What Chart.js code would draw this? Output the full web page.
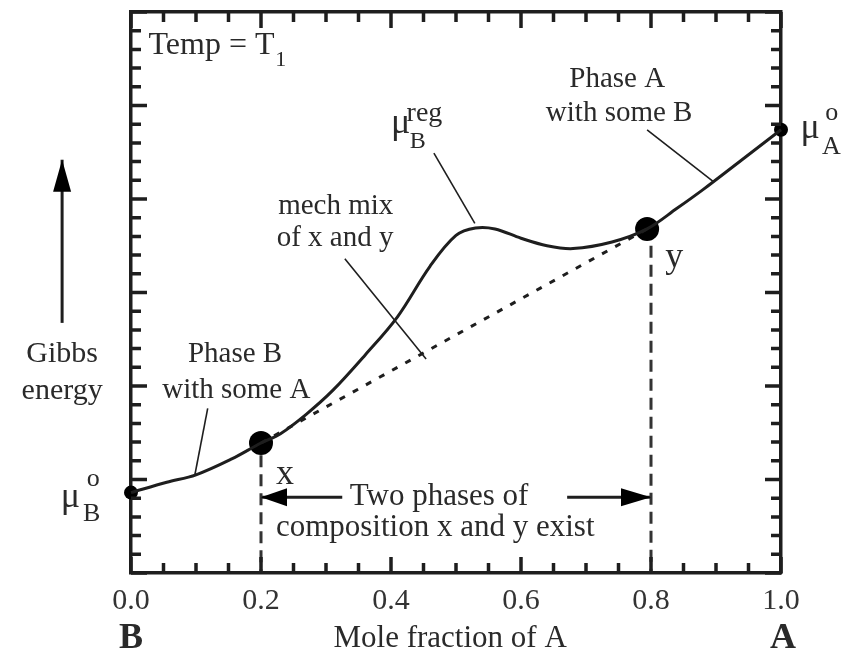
<!DOCTYPE html>
<html><head><meta charset="utf-8">
<script src="https://cdn.jsdelivr.net/npm/chart.js@4.4.1/dist/chart.umd.min.js"></script>
<style>html,body{margin:0;padding:0;background:#fff;}canvas{display:block;}</style>
</head><body>
<canvas id="c" width="846" height="656"></canvas>
<script>
// ---- data (x = mole fraction of A, G = Gibbs energy, arbitrary units) ----
const curveX = [0.00, 0.055, 0.10, 0.155, 0.20, 0.23, 0.27, 0.31, 0.36, 0.41, 0.46, 0.50, 0.53, 0.56, 0.60, 0.64, 0.68, 0.74, 0.794, 0.84, 0.88, 0.94, 1.00];
const curveG = [0.86, 0.97, 1.05, 1.22, 1.39, 1.49, 1.70, 1.95, 2.33, 2.74, 3.28, 3.61, 3.69, 3.68, 3.58, 3.50, 3.47, 3.54, 3.68, 3.90, 4.10, 4.42, 4.74];
const tangentX = [0.20, 0.794];
const tangentG = [1.39, 3.68];
const phaseDotX = [0.20, 0.794];
const phaseDotG = [1.39, 3.68];
const pureX = [0.00, 1.00];
const pureG = [0.86, 4.74];
const dropX = [0.20, 0.80];
const dropTopG = [1.26, 3.50];
const xTickLabels = ['0.0', '0.2', '0.4', '0.6', '0.8', '1.0'];
// leader lines: [x1, G1, x2, G2]
const leaderPhaseB = [0.118, 1.76, 0.098, 1.04];
const leaderMech = [0.329, 3.36, 0.454, 2.29];
const leaderReg = [0.466, 4.49, 0.529, 3.74];
const leaderPhaseA = [0.794, 4.74, 0.895, 4.19];
// arrows: [xTail, GTail, xTip, GTip]
const arrowGibbs = [-0.106, 2.675, -0.106, 4.42];
const arrowLeft = [0.325, 0.81, 0.20, 0.81];
const arrowRight = [0.671, 0.81, 0.80, 0.81];

const SERIF = '"Liberation Serif", "Times New Roman", serif';
const INK = '#1e1e1e';
const TEXT = '#2a2a2a';

const pts = (xs, ys) => xs.map((x, i) => ({x: x, y: ys[i]}));
const seg = a => [{x: a[0], y: a[1]}, {x: a[2], y: a[3]}];

const lineDs = (data, extra) => Object.assign({
  type: 'line', data: data, borderColor: INK, borderWidth: 1.6,
  pointRadius: 0, fill: false, tension: 0, clip: false
}, extra || {});

const datasets = [
  lineDs(pts(curveX, curveG), {borderWidth: 3, tension: 0.35}),
  lineDs(pts(tangentX, tangentG), {borderWidth: 3, borderDash: [6, 9]}),
  lineDs(seg([dropX[0], dropTopG[0], dropX[0], 0]), {borderWidth: 3, borderDash: [12, 7], borderColor: '#333'}),
  lineDs(seg([dropX[1], dropTopG[1], dropX[1], 0]), {borderWidth: 3, borderDash: [12, 7], borderColor: '#333'}),
  lineDs(seg(leaderPhaseB)), lineDs(seg(leaderMech)), lineDs(seg(leaderReg)), lineDs(seg(leaderPhaseA)),
  lineDs(seg(arrowGibbs), {borderWidth: 3}),
  lineDs(seg(arrowLeft), {borderWidth: 3}),
  lineDs(seg(arrowRight), {borderWidth: 3}),
  {type: 'scatter', data: pts(phaseDotX, phaseDotG), pointRadius: 12, backgroundColor: '#000', borderWidth: 0, clip: false},
  {type: 'scatter', data: pts(pureX, pureG), pointRadius: 7, backgroundColor: '#000', borderWidth: 0, clip: false}
];

function head(ctx, tx, ty, fx, fy, len, hw) {
  const dx = tx - fx, dy = ty - fy, d = Math.hypot(dx, dy), ux = dx / d, uy = dy / d;
  const bx = tx - ux * len, by = ty - uy * len;
  ctx.beginPath();
  ctx.moveTo(tx, ty);
  ctx.lineTo(bx - uy * hw, by + ux * hw);
  ctx.lineTo(bx + uy * hw, by - ux * hw);
  ctx.closePath();
  ctx.fill();
}

const decor = {
  id: 'decor',
  afterDatasetsDraw(chart) {
    const ctx = chart.ctx, xs = chart.scales.x, ys = chart.scales.y, a = chart.chartArea;
    const X = v => xs.getPixelForValue(v), Y = v => ys.getPixelForValue(v);
    ctx.save();
    ctx.strokeStyle = INK; ctx.fillStyle = INK; ctx.lineWidth = 3.5; ctx.lineCap = 'butt';
    // inward tick marks on all four sides
    for (let i = 0; i <= 20; i++) {
      const px = X(i * 0.05), L = (i % 4 === 0) ? 16 : 10;
      ctx.beginPath();
      ctx.moveTo(px, a.bottom); ctx.lineTo(px, a.bottom - L);
      ctx.moveTo(px, a.top); ctx.lineTo(px, a.top + L);
      ctx.stroke();
    }
    for (let i = 0; i <= 30; i++) {
      const py = Y(i * 0.2), L = (i % 5 === 0) ? 16 : 10;
      ctx.beginPath();
      ctx.moveTo(a.left, py); ctx.lineTo(a.left + L, py);
      ctx.moveTo(a.right, py); ctx.lineTo(a.right - L, py);
      ctx.stroke();
    }
    // arrow heads
    ctx.fillStyle = '#000';
    head(ctx, X(arrowGibbs[2]), Y(arrowGibbs[3]), X(arrowGibbs[0]), Y(arrowGibbs[1]), 32, 9);
    head(ctx, X(arrowLeft[2]), Y(arrowLeft[3]), X(arrowLeft[0]), Y(arrowLeft[1]), 26, 9);
    head(ctx, X(arrowRight[2]), Y(arrowRight[3]), X(arrowRight[0]), Y(arrowRight[1]), 30, 9);
    // text
    ctx.fillStyle = TEXT; ctx.textBaseline = 'alphabetic';
    const T = (s, x, y, size, align, bold) => {
      ctx.font = (bold ? 'bold ' : '') + size + 'px ' + SERIF;
      ctx.textAlign = align || 'left';
      ctx.fillText(s, X(x), Y(y));
    };
    T('Temp = T', 0.027, 5.55, 32);
    T('1', 0.222, 5.42, 22);
    T('Phase A', 0.748, 5.20, 29, 'center');
    T('with some B', 0.751, 4.83, 29, 'center');
    T('\u03bc', 0.400, 4.71, 36); T('reg', 0.424, 4.83, 28); T('B', 0.429, 4.55, 24);
    T('\u03bc', 1.030, 4.65, 36); T('o', 1.068, 4.84, 26); T('A', 1.063, 4.48, 26);
    T('\u03bc', -0.108, 0.71, 36); T('o', -0.068, 0.93, 26); T('B', -0.074, 0.56, 26);
    T('x', 0.223, 0.95, 36);
    T('y', 0.822, 3.27, 36);
    T('mech mix', 0.315, 3.84, 29, 'center');
    T('of x and y', 0.314, 3.50, 29, 'center');
    T('Phase B', 0.160, 2.26, 29, 'center');
    T('with some A', 0.162, 1.87, 29, 'center');
    T('Gibbs', -0.106, 2.26, 30, 'center');
    T('energy', -0.106, 1.86, 30, 'center');
    T('Two phases of', 0.474, 0.73, 31, 'center');
    T('composition x and y exist', 0.468, 0.40, 31, 'center');
    T('Mole fraction of A', 0.491, -0.79, 31, 'center');
    T('B', 0.0, -0.80, 36, 'center', true);
    T('A', 1.003, -0.80, 36, 'center', true);
    ctx.restore();
  }
};

const hiddenAxis = (pos, fit, max) => ({
  type: 'linear', position: pos, display: true, min: 0, max: max,
  grid: {display: false, drawTicks: false},
  border: {display: true, color: INK, width: 3.5},
  ticks: {display: false},
  afterFit: fit
});

new Chart(document.getElementById('c'), {
  data: {datasets: datasets},
  options: {
    responsive: false, animation: false, events: [],
    layout: {padding: {left: 131, right: 65, top: 10, bottom: 0}},
    plugins: {legend: {display: false}, tooltip: {enabled: false}, title: {display: false}},
    scales: {
      x: {
        type: 'linear', position: 'bottom', min: 0, max: 1,
        grid: {display: false, drawTicks: false},
        border: {display: true, color: INK, width: 3.5},
        ticks: {stepSize: 0.2, padding: 10, color: '#333', font: {family: SERIF, size: 30},
                callback: (v, i) => xTickLabels[i]},
        afterFit: s => { s.height = 83; }
      },
      x2: hiddenAxis('top', s => { s.height = 0; }, 1),
      y: hiddenAxis('left', s => { s.width = 0; }, 6),
      y2: hiddenAxis('right', s => { s.width = 0; }, 6)
    }
  },
  plugins: [decor]
});
</script>
</body></html>
